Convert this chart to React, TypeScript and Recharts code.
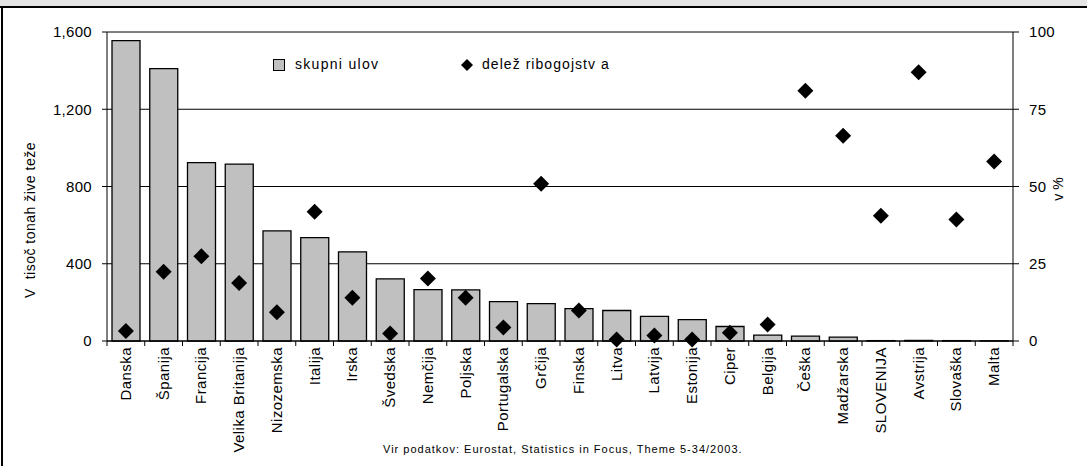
import { ComposedChart, Bar, Line, XAxis, YAxis, CartesianGrid } from "recharts";

const countries = [
  "Danska", "Španija", "Francija", "Velika Britanija", "Nizozemska", "Italija", "Irska", "Švedska",
  "Nemčija", "Poljska", "Portugalska", "Grčija", "Finska", "Litva", "Latvija", "Estonija",
  "Ciper", "Belgija", "Češka", "Madžarska", "SLOVENIJA", "Avstrija", "Slovaška", "Malta",
];
// skupni ulov, v tisoč tonah žive teže
const totalCatch = [1555, 1410, 924, 916, 570, 535, 462, 322, 266, 265, 204, 194, 168, 158, 127, 111, 75, 30, 25, 20, 2, 3, 2, 1];
// delež ribogojstva, v %
const aquaShare = [3.2, 22.4, 27.4, 18.8, 9.3, 41.8, 14, 2.4, 20.2, 14, 4.4, 50.9, 9.9, 0.5, 1.8, 0.5, 2.7, 5.3, 81, 66.4, 40.5, 87, 39.3, 58.1];
const leftTicks = [0, 400, 800, 1200, 1600];
const rightTicks = [0, 25, 50, 75, 100];

const data = countries.map((name, i) => ({ name, total: totalCatch[i], share: aquaShare[i] }));

const W = 1087;
const H = 466;
const PLOT_LEFT = 107;
const PLOT_RIGHT = 1013;
const BAND = (PLOT_RIGHT - PLOT_LEFT) / countries.length;
const FONT = "'Liberation Sans', Arial, sans-serif";

function CountryTick(props: any) {
  const { x, y, payload, index } = props;
  const last = index === countries.length - 1;
  return (
    <g>
      <line x1={x - BAND / 2} x2={x - BAND / 2} y1={y} y2={y + 5} stroke="#000" />
      {last && <line x1={x + BAND / 2} x2={x + BAND / 2} y1={y} y2={y + 5} stroke="#000" />}
      <text
        transform={`translate(${x + 5}, ${y + 6}) rotate(-90)`}
        textAnchor="end"
        fontSize={15}
        letterSpacing={0.45}
        fill="#000"
        fontFamily={FONT}
      >
        {payload.value}
      </text>
    </g>
  );
}

function diamond(props: any) {
  const { cx, cy, index } = props;
  if (cx == null || cy == null) return <g key={`d-${index}`} />;
  const r = 8;
  return (
    <polygon
      key={`d-${index}`}
      points={`${cx},${cy - r} ${cx + r},${cy} ${cx},${cy + r} ${cx - r},${cy}`}
      fill="#000"
    />
  );
}

export default function App() {
  const tickStyle = { fill: "#000", fontSize: 15, fontFamily: FONT, letterSpacing: 0.3 };
  return (
    <div
      style={{
        position: "absolute",
        left: 0,
        top: 0,
        width: W,
        height: 466,
        background: "#fff",
        fontFamily: FONT,
        color: "#000",
        overflow: "hidden",
      }}
    >
      <div style={{ position: "absolute", left: 0, top: 0, width: W, height: 6, background: "#e4e4e4", borderBottom: "2px solid #000" }} />
      <div style={{ position: "absolute", left: 1, top: 8, width: 0, height: 460, borderLeft: "2px solid #000" }} />

      <div style={{ position: "absolute", left: 0, top: 0 }}>
        <ComposedChart width={W} height={H} data={data} margin={{ top: 32, right: 14, bottom: 0, left: 47 }} barSize={28}>
          <CartesianGrid vertical={false} stroke="#000" strokeWidth={1} />
          <XAxis
            dataKey="name"
            interval={0}
            height={125}
            tickSize={0}
            tickMargin={0}
            tickLine={false}
            axisLine={{ stroke: "#000" }}
            tick={<CountryTick />}
          />
          <YAxis
            domain={[0, 1600]}
            ticks={leftTicks}
            width={60}
            tickSize={5}
            tickMargin={10}
            tickFormatter={(v: number) => v.toLocaleString("en-US")}
            tick={tickStyle}
            axisLine={{ stroke: "#000" }}
            tickLine={{ stroke: "#000" }}
          />
          <YAxis
            yAxisId="right"
            orientation="right"
            domain={[0, 100]}
            ticks={rightTicks}
            width={60}
            tickSize={6}
            tickMargin={10}
            tick={tickStyle}
            axisLine={{ stroke: "#000" }}
            tickLine={{ stroke: "#000" }}
          />
          <Bar dataKey="total" fill="#c0c0c0" stroke="#000" strokeWidth={1.3} isAnimationActive={false} />
          <Line
            yAxisId="right"
            dataKey="share"
            stroke="none"
            dot={diamond}
            activeDot={false}
            isAnimationActive={false}
          />
        </ComposedChart>
      </div>

      {/* legend */}
      <div style={{ position: "absolute", left: 273, top: 59, width: 10, height: 10, background: "#c0c0c0", border: "1px solid #000" }} />
      <div style={{ position: "absolute", left: 295, top: 56, fontSize: 14, letterSpacing: 1.3, whiteSpace: "nowrap" }}>skupni ulov</div>
      <svg style={{ position: "absolute", left: 461, top: 59 }} width={12} height={12}>
        <polygon points="6,0 12,6 6,12 0,6" fill="#000" />
      </svg>
      <div style={{ position: "absolute", left: 482, top: 56, fontSize: 14, letterSpacing: 1.05, whiteSpace: "nowrap" }}>delež ribogojstv a</div>

      {/* axis titles */}
      <div
        style={{
          position: "absolute",
          left: 30,
          top: 220,
          transform: "translate(-50%, -50%) rotate(-90deg)",
          fontSize: 14,
          letterSpacing: 0.5,
          whiteSpace: "pre",
        }}
      >
        {"V  tisoč tonah žive teže"}
      </div>
      <div
        style={{
          position: "absolute",
          left: 1058,
          top: 189,
          transform: "translate(-50%, -50%) rotate(-90deg)",
          fontSize: 14,
          whiteSpace: "nowrap",
        }}
      >
        v %
      </div>

      <div style={{ position: "absolute", left: 383, top: 443, fontSize: 11, letterSpacing: 1, whiteSpace: "nowrap" }}>
        Vir podatkov: Eurostat, Statistics in Focus, Theme 5-34/2003.
      </div>
    </div>
  );
}
